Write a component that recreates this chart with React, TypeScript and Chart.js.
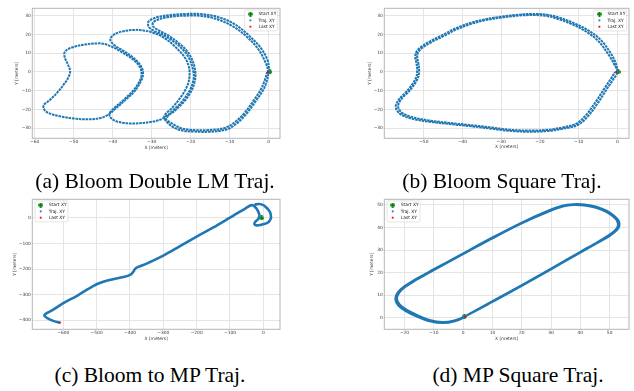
import React, { useEffect, useRef } from "react";
import { Chart, registerables } from "chart.js";

Chart.register(...registerables);

type Pt = [number, number];

// ---------- (a) Bloom Double LM ----------
const doubleLMTraj: Pt[] = [
  [0.2, 0], [-0.3, 6.4], [-2.3, 13.5], [-5.7, 20.6], [-9.1, 25.9], [-13.4, 29.5], [-17.6, 30.9], [-21, 30.9],
  [-24.4, 30.5], [-28.7, 29.1], [-30.8, 26.8], [-30.8, 24.2], [-29.5, 22], [-27, 19.7], [-24.4, 16.2],
  [-21.9, 11.7], [-20.2, 6.4], [-19.3, 0], [-19.3, -4.3], [-20.2, -9.6], [-21.9, -14.9], [-24.4, -20.2], [-27, -24.6],
  [-29.6, -26.4], [-34.7, -27.4], [-38.5, -26.6], [-40.5, -24.4], [-40.8, -22],
  [-39.5, -19], [-37, -14.5], [-34.6, -9.6], [-33, -4.5], [-32.6, -1], [-33, 2.5], [-34.6, 6.4], [-37.2, 10], [-40, 13.2],
  [-42.3, 15], [-44.1, 15.2], [-47.5, 14.5], [-50.5, 13], [-51.8, 11.7], [-52.4, 9.9], [-52.2, 7.3], [-51.4, 3.7],
  [-50.9, 0.2], [-51.5, -3.5], [-52.5, -6.5], [-54, -10.5], [-56.1, -14.9], [-57.7, -17.8], [-57.4, -20.4], [-56, -22.2],
  [-53.5, -23.6], [-50.1, -24.7], [-46.7, -25.2], [-43.3, -24.6], [-41.1, -22.7],
  [-39.2, -19.4], [-36.7, -14.8], [-34.2, -9.8], [-32.7, -4.6], [-32.2, -1], [-32.6, 2.6], [-34.2, 6.7], [-36.8, 10.7],
  [-39.6, 14.3], [-40.6, 17.2],
  [-39.8, 19.7], [-37.7, 21.5], [-34.3, 22.4], [-31.8, 22], [-29.2, 20.6], [-26.6, 17.9], [-24, 13.5], [-21.6, 8],
  [-20.5, 3], [-20.3, -2], [-20.8, -7], [-22.4, -13], [-24.7, -19], [-26.8, -23.8],
  [-25.3, -28.2], [-22.7, -30.9], [-19.3, -31.7], [-15, -31.8], [-10.8, -30.6], [-8.2, -27.4], [-5.6, -22],
  [-3.1, -14.9], [-1.4, -9.6], [-0.4, -4.3], [-0.1, 0],
  [-0.8, 5], [-2.8, 12.5], [-6, 19.5], [-9.6, 24.8], [-13.7, 28.4], [-17.6, 29.9], [-21, 30], [-24.2, 29.6],
  [-27.8, 28.3], [-29.6, 26.4], [-29.6, 24.2], [-28.2, 22.2], [-25.8, 19.5], [-23.3, 15.8], [-21, 11.3], [-19.5, 6],
  [-18.8, 0], [-18.9, -4.5], [-19.8, -10], [-21.5, -15.3], [-24, -20.5], [-26.3, -24.8],
  [-24.8, -27.4], [-22.3, -30], [-19.2, -30.9], [-15.2, -30.9], [-11.3, -29.8], [-8.7, -26.8], [-6.2, -21.8],
  [-3.8, -15], [-2.1, -9.6], [-1, -4.3], [-0.4, 0],
];
const doubleLMStart: Pt[] = [[0.3, 0]];
const doubleLMLast: Pt[] = [[-0.2, 0]];
const doubleLMXTicks = [-60, -50, -40, -30, -20, -10, 0];
const doubleLMYTicks = [-30, -20, -10, 0, 10, 20, 30];

// ---------- (b) Bloom Square ----------
const squareTraj: Pt[] = [
  [0.1, 0], [-0.4, 4.6], [-1.7, 9.9], [-4.3, 17.1], [-7.7, 22.4], [-11.1, 25.9], [-14.5, 28.6], [-17.9, 30.4],
  [-21.3, 30.9], [-25.6, 30.5], [-29.8, 29.5], [-34.1, 28.1], [-38.3, 25.9], [-41.7, 23.3], [-45.1, 19.7],
  [-48.5, 16.2], [-50.6, 13.5], [-51.9, 10.8], [-52.2, 8.2], [-51.9, 4.6], [-51.7, 1.1], [-51.9, -2.5], [-52.8, -6],
  [-54.5, -10.5], [-56.2, -14], [-57.2, -17.6], [-57, -20.2], [-55.7, -22.9], [-52.8, -25], [-48.5, -26.5],
  [-43.4, -27.7], [-38.3, -28.8], [-33.2, -30], [-28.1, -31.3], [-23, -31.8], [-17.9, -31.4], [-13.6, -30],
  [-10.2, -28.2], [-7.7, -23.8], [-5.1, -16.7], [-2.6, -8.7], [-0.9, -3.4], [0, 0],
  [-0.9, 4.4], [-2.4, 9.6], [-5, 16.6], [-8.3, 21.8], [-11.6, 25.3], [-15, 28], [-18.2, 29.8], [-21.4, 30.3],
  [-25.6, 30], [-29.8, 29], [-34.1, 27.6], [-38.1, 25.4], [-41.4, 22.8], [-44.8, 19.2], [-48.1, 15.8], [-50.2, 13.2],
  [-51.4, 10.6], [-51.7, 8.2], [-51.4, 4.6], [-51.2, 1.1], [-51.4, -2.5], [-52.3, -6.2], [-54, -10.7], [-55.7, -14.2],
  [-56.6, -17.6], [-56.4, -19.9], [-55.2, -22.3], [-52.5, -24.3], [-48.3, -25.9], [-43.3, -27.1], [-38.2, -28.2],
  [-33.1, -29.4], [-28.1, -30.7], [-23, -31.2], [-18, -30.8], [-13.9, -29.4], [-10.7, -27.6], [-8.3, -23.4],
  [-5.8, -16.5], [-3.3, -8.6], [-1.6, -3.3], [-0.6, 0],
];
const squareStart: Pt[] = [[0.2, 0]];
const squareLast: Pt[] = [[-0.3, 0]];
const squareXTicks = [-50, -40, -30, -20, -10, 0];
const squareYTicks = [-30, -20, -10, 0, 10, 20, 30];

// ---------- (c) Bloom to MP ----------
const toMPTraj: Pt[] = [
  [-27, 52], [-12, 54.5], [0, 50], [8, 42], [16, 31], [21, 19.5], [23, 0], [19, -10], [16, -15.6], [10, -20],
  [3, -23.4], [-7, -27], [-20, -29], [-27, -24], [-24, -15], [-16, -5], [-12, 5], [-12, 13], [-15, 24], [-20, 36],
  [-27, 46], [-32, 50], [-37, 49.6], [-52, 39], [-82, 15.6], [-100, 1.6], [-150, -37], [-200, -73], [-250, -110],
  [-300, -147], [-340, -172], [-362, -185], [-375, -191], [-384, -198], [-390, -210], [-398, -221], [-420, -231],
  [-450, -239], [-480, -249], [-500, -259], [-530, -281], [-560, -305], [-600, -333], [-630, -358], [-652, -374],
  [-657, -382], [-648, -391], [-628, -403], [-610, -409],
];
const toMPStart: Pt[] = [[-5, 0]];
const toMPLast: Pt[] = [[-610, -409]];
const toMPXTicks = [-600, -500, -400, -300, -200, -100, 0];
const toMPYTicks = [-400, -300, -200, -100, 0];

// ---------- (d) MP Square ----------
const mpSquareTraj: Pt[] = [
  [0.4, 0.6], [10, 7.4], [20, 14.5], [30, 21.8], [40, 29.2], [46, 33.6], [49.6, 36.4], [51.8, 38.6], [52.8, 40.6],
  [52.6, 42.7], [51.3, 44.7], [48.8, 46.9], [45.3, 48.7], [41.4, 49.7], [37.5, 49.9], [34, 49.2], [29, 46.9],
  [20, 41.8], [10, 35.2], [0, 28.2], [-10, 21.2], [-16, 16.8], [-19.8, 13.7], [-22, 10.9], [-22.6, 8.3],
  [-21.6, 5.8], [-19.2, 3.5], [-15.6, 1.2], [-11.5, -0.9], [-7, -1.8], [-3, -1.1], [0.4, 0.6],
  [10, 7.1], [20, 14.2], [30, 21.5], [40, 28.9], [46, 33.3], [49.9, 36.2], [52.3, 38.6], [53.3, 40.6],
  [53.1, 42.8], [51.7, 44.9], [49.1, 47.2], [45.5, 49.1], [41.5, 50.1], [37.5, 50.2], [33.8, 49.5], [28.8, 47.2],
  [20, 42.1], [10, 35.5], [0, 28.5], [-10, 21.5], [-16.3, 17], [-20.2, 13.8], [-22.5, 10.9], [-23.1, 8.2],
  [-22.1, 5.5], [-19.6, 3.1], [-15.8, 0.7], [-11.4, -1.4], [-6.9, -2.2], [-2.8, -1.4], [0.8, 0.4],
];
const mpSquareStart: Pt[] = [[0.4, 0.6]];
const mpSquareLast: Pt[] = [[0.7, 0.6]];
const mpSquareXTicks = [-20, -10, 0, 10, 20, 30, 40, 50];
const mpSquareYTicks = [0, 10, 20, 30, 40, 50];

const legendLabels = ["Start XY", "Traj. XY", "Last XY"];
const xTitle = "X [meters]";
const yTitle = "Y [meters]";
const captions = [
  "(a) Bloom Double LM Traj.",
  "(b) Bloom Square Traj.",
  "(c) Bloom to MP Traj.",
  "(d) MP Square Traj.",
];

const BLUE = "#1f77b4";
const GREEN = "#008000";
const RED = "#ff0000";
const TICK_FONT = { family: "'DejaVu Sans', sans-serif", size: 4.4 };
const TEXT_COLOR = "#3a3a3a";

function plusImage(size: number, thick: number, color: string) {
  const c = document.createElement("canvas");
  c.width = size;
  c.height = size;
  const g = c.getContext("2d")!;
  g.fillStyle = color;
  const o = (size - thick) / 2;
  g.fillRect(0, o, size, thick);
  g.fillRect(o, 0, thick, size);
  return c;
}

const frameLegendPlugin = {
  id: "frameLegend",
  afterDatasetsDraw(chart: any, _args: any, opts: any) {
    const { ctx, chartArea: ca } = chart;
    ctx.save();
    ctx.strokeStyle = "#b4b4b4";
    ctx.lineWidth = 1;
    ctx.strokeRect(ca.left, ca.top, ca.right - ca.left, ca.bottom - ca.top);
    const w = 33;
    const h = 21;
    const x = opts.corner === "right" ? ca.right - 2.3 - w : ca.left + 2.7;
    const y = ca.top + 1.6;
    ctx.beginPath();
    if (ctx.roundRect) ctx.roundRect(x, y, w, h, 1.5);
    else ctx.rect(x, y, w, h);
    ctx.fillStyle = "rgba(255,255,255,0.85)";
    ctx.fill();
    ctx.strokeStyle = "#d4d4d4";
    ctx.lineWidth = 0.6;
    ctx.stroke();
    const rows = [y + 4.2, y + 10.5, y + 16.8];
    const mx = x + 5.7;
    const plus = plusImage(5, 2, GREEN);
    ctx.drawImage(plus, mx - 2.5, rows[0] - 2.5);
    ctx.fillStyle = BLUE;
    ctx.fillRect(mx - 0.9, rows[1] - 0.9, 1.8, 1.8);
    ctx.fillStyle = RED;
    ctx.fillRect(mx - 0.9, rows[2] - 0.9, 1.8, 1.8);
    ctx.fillStyle = "#222";
    ctx.font = "4.4px 'DejaVu Sans', sans-serif";
    ctx.textBaseline = "middle";
    ctx.textAlign = "left";
    legendLabels.forEach((t, i) => ctx.fillText(t, x + 13.8, rows[i]));
    ctx.restore();
  },
};

interface PanelCfg {
  traj: Pt[];
  start: Pt[];
  last: Pt[];
  xTicks: number[];
  yTicks: number[];
  xMin: number;
  xMax: number;
  yMin: number;
  yMax: number;
  cl: number;
  ct: number;
  cw: number;
  ch: number;
  L: number;
  T: number;
  R: number;
  B: number;
  yTitleX: number;
  xTitleY: number;
  corner: "left" | "right";
  lineW: number;
  dash: number[];
}

const panels: PanelCfg[] = [
  {
    traj: doubleLMTraj, start: doubleLMStart, last: doubleLMLast, xTicks: doubleLMXTicks, yTicks: doubleLMYTicks,
    xMin: -60.6, xMax: 2.9, yMin: -35.3, yMax: 33.9,
    cl: 0, ct: 0, cw: 317, ch: 165, L: 32.3, T: 8.3, R: 280, B: 138.3, yTitleX: 17.3, xTitleY: 147.7,
    corner: "right", lineW: 2.0, dash: [2.6, 0.8],
  },
  {
    traj: squareTraj, start: squareStart, last: squareLast, xTicks: squareXTicks, yTicks: squareYTicks,
    xMin: -60.2, xMax: 3.0, yMin: -35.3, yMax: 33.9,
    cl: 317, ct: 0, cw: 317, ch: 165, L: 384.3, T: 8.3, R: 632, B: 138.3, yTitleX: 370.3, xTitleY: 147.2,
    corner: "right", lineW: 2.0, dash: [2.6, 0.8],
  },
  {
    traj: toMPTraj, start: toMPStart, last: toMPLast, xTicks: toMPXTicks, yTicks: toMPYTicks,
    xMin: -693, xMax: 50, yMin: -435, yMax: 73,
    cl: 0, ct: 190, cw: 317, ch: 165, L: 32.3, T: 199.3, R: 280, B: 329.3, yTitleX: 15.3, xTitleY: 338.5,
    corner: "left", lineW: 2.6, dash: [],
  },
  {
    traj: mpSquareTraj, start: mpSquareStart, last: mpSquareLast, xTicks: mpSquareXTicks, yTicks: mpSquareYTicks,
    xMin: -26.9, xMax: 56.6, yMin: -5.0, yMax: 52.4,
    cl: 317, ct: 190, cw: 317, ch: 165, L: 384.3, T: 199.3, R: 632, B: 329.3, yTitleX: 372, xTitleY: 339,
    corner: "left", lineW: 2.2, dash: [],
  },
];

const fmt = (v: number | string) => {
  const n = Number(v);
  return n < 0 ? "\u2212" + Math.abs(n) : String(n);
};

function Panel({ cfg }: { cfg: PanelCfg }) {
  const ref = useRef<HTMLCanvasElement | null>(null);
  useEffect(() => {
    if (!ref.current) return;
    const lh = TICK_FONT.size * 1.2;
    const pl = cfg.yTitleX - cfg.cl - lh / 2;
    const W = cfg.L - cfg.cl - pl;
    const pt = cfg.T - cfg.ct;
    const pr = cfg.cl + cfg.cw - cfg.R;
    const H = cfg.xTitleY - cfg.B + lh / 2;
    const pb = cfg.ct + cfg.ch - cfg.B - H;
    const toXY = (a: Pt[]) => a.map(([x, y]) => ({ x, y }));
    const startImg = plusImage(5, 2, GREEN);
    const chart = new Chart(ref.current, {
      type: "scatter",
      data: {
        datasets: [
          {
            label: legendLabels[2],
            data: toXY(cfg.last),
            pointStyle: "rect",
            pointRadius: 1.3,
            backgroundColor: RED,
            borderWidth: 0,
            order: 0,
          },
          {
            label: legendLabels[1],
            data: toXY(cfg.traj),
            showLine: true,
            borderColor: BLUE,
            borderWidth: cfg.lineW,
            borderDash: cfg.dash,
            pointRadius: 0,
            tension: 0.35,
            order: 1,
          },
          {
            label: legendLabels[0],
            data: toXY(cfg.start),
            pointStyle: startImg as any,
            pointRadius: 2.5,
            backgroundColor: GREEN,
            order: 2,
          },
        ],
      },
      options: {
        animation: false,
        responsive: false,
        devicePixelRatio: 1,
        events: [],
        layout: { padding: { left: pl, top: pt, right: pr, bottom: pb } },
        plugins: {
          legend: { display: false },
          tooltip: { enabled: false },
          frameLegend: { corner: cfg.corner },
        } as any,
        scales: {
          x: {
            type: "linear",
            min: cfg.xMin,
            max: cfg.xMax,
            afterBuildTicks: (s: any) => {
              s.ticks = cfg.xTicks.map((v) => ({ value: v }));
            },
            afterFit: (s: any) => {
              s.height = H;
            },
            grid: { color: "#e4e4e4", lineWidth: 1, drawTicks: false },
            border: { display: false },
            ticks: { font: TICK_FONT, color: TEXT_COLOR, padding: 1.2, maxRotation: 0, autoSkip: false, callback: fmt },
            title: { display: true, text: xTitle, padding: 0, font: TICK_FONT, color: TEXT_COLOR },
          },
          y: {
            type: "linear",
            min: cfg.yMin,
            max: cfg.yMax,
            afterBuildTicks: (s: any) => {
              s.ticks = cfg.yTicks.map((v) => ({ value: v }));
            },
            afterFit: (s: any) => {
              s.width = W;
            },
            grid: { color: "#e4e4e4", lineWidth: 1, drawTicks: false },
            border: { display: false },
            ticks: { font: TICK_FONT, color: TEXT_COLOR, padding: 1.4, autoSkip: false, callback: fmt },
            title: { display: true, text: yTitle, padding: 0, font: TICK_FONT, color: TEXT_COLOR },
          },
        },
      } as any,
      plugins: [frameLegendPlugin],
    });
    return () => chart.destroy();
  }, [cfg]);
  return (
    <canvas
      ref={ref}
      width={cfg.cw}
      height={cfg.ch}
      style={{ position: "absolute", left: cfg.cl, top: cfg.ct, width: cfg.cw, height: cfg.ch }}
    />
  );
}

const captionPos = [
  { cx: 155, top: 171 },
  { cx: 502, top: 171 },
  { cx: 150, top: 365 },
  { cx: 518, top: 365 },
];

export default function App() {
  return (
    <div
      style={{
        position: "fixed",
        left: 0,
        top: 0,
        width: 634,
        height: 391,
        background: "#fff",
        overflow: "hidden",
      }}
    >
      {panels.map((p, i) => (
        <Panel key={i} cfg={p} />
      ))}
      {captions.map((t, i) => (
        <div
          key={t}
          style={{
            position: "absolute",
            left: captionPos[i].cx,
            top: captionPos[i].top,
            transform: "translateX(-50%)",
            whiteSpace: "nowrap",
            fontFamily: "'Liberation Serif', 'Times New Roman', serif",
            fontSize: 21.5,
            lineHeight: 1,
            color: "#000",
          }}
        >
          {t}
        </div>
      ))}
    </div>
  );
}
